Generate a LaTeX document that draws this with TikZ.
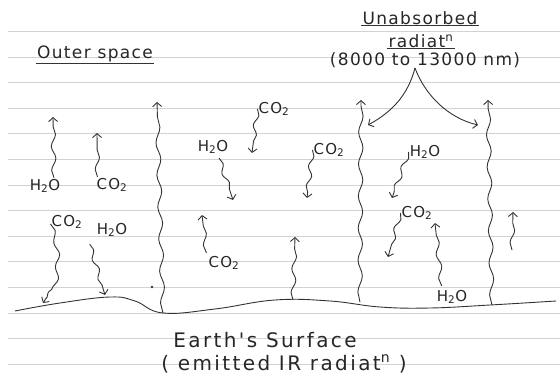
\documentclass[tikz,border=0pt]{standalone}
\usepackage{fontspec}
\setmainfont{DejaVu Sans}
\newfontfamily\handfont[LetterSpace=8]{DejaVu Sans}
\newfontfamily\widehand[LetterSpace=12]{DejaVu Sans}
\usetikzlibrary{arrows.meta,decorations.pathmorphing,positioning}

\tikzset{
  pen/.style={line width=0.9pt, black!80},
  tip/.style={-{Straight Barb[length=4pt,width=9pt]}},
  ray/.style={pen, tip, decorate,
    decoration={snake, segment length=#1, amplitude=2.2pt, post length=5pt}},
  ray/.default=24pt,
  hand/.style={font=\handfont\fontsize{17}{19}\selectfont, inner sep=1pt, black!85},
  ground/.style={font=\widehand\fontsize{20}{22}\selectfont, inner sep=1pt, black!85},
  gas/.style={font=\handfont\fontsize{15}{17}\selectfont, inner sep=1pt, black!85},
  rule/.style={gray!35, line width=0.9pt}
}

\begin{document}
\begin{tikzpicture}[x=1pt,y=-1pt]
  \useasboundingbox (0,0) rectangle (560,388);
  % ruled paper
  \foreach \k in {0,...,13}
    \draw[rule] (8,31.5+25.6*\k) -- (560,31.5+25.6*\k);

  % headings
  \node[hand] (space) at (95,54) {Outer space};
  \draw[pen] (space.south west) -- (space.south east);
  \node[hand] (unabs) at (420,18) {Unabsorbed};
  \node[hand] (rad) at (421,41) {radiat\textsuperscript{n}};
  \node[hand] (range) at (425,60) {(8000 to 13000 nm)};
  \draw[pen] (unabs.south west) -- (unabs.south east);
  \draw[pen] (rad.south west) -- (rad.south east);

  % the window that escapes
  \coordinate (split) at (415,68);
  \coordinate (hitL) at (368,125);
  \coordinate (hitR) at (478,125);
  \draw[pen,tip] (split) .. controls (408,95) and (392,112) .. (hitL);
  \draw[pen,tip] (split) .. controls (425,95) and (448,118) .. (hitR);

  % ground
  \draw[pen] plot[smooth, tension=0.7] coordinates {(15,311) (60,303) (110,297) (135,301)
    (163,313) (215,309) (275,300) (330,301) (380,307) (430,308) (490,305) (556,301)};
  \fill[black!80] (152,287) circle (1.3pt);
  \node[ground] (earth) at (265,340) {Earth's Surface};
  \node[ground] (emit) at (284,364) {( emitted IR radiat\textsuperscript{n} )};

  % long rays from the ground
  \coordinate (g1) at (163,313);
  \coordinate (g2) at (360,302);
  \coordinate (g3) at (492,305);
  \coordinate (top1) at (157,102);
  \coordinate (top2) at (361,100);
  \coordinate (top3) at (488,100);
  \draw[ray=32pt] (g1) -- (top1);
  \draw[ray=32pt] (g2) -- (top2);
  \draw[ray=32pt] (g3) -- (top3);

  % upward, left side
  \node[gas] (h2oA) at (45,186) {H\textsubscript{2}O};
  \node[gas] (co2A) at (112,185) {CO\textsubscript{2}};
  \coordinate (a1) at (53,117);
  \coordinate (a2) at (97,133);
  \draw[ray] (h2oA.north) ++(9,0) -- (a1);
  \draw[ray] (co2A.north west) ++(2,0) -- (a2);

  % absorbed and sent back down
  \node[gas] (co2B) at (274,109) {CO\textsubscript{2}};
  \node[gas] (h2oB) at (213,147) {H\textsubscript{2}O};
  \node[gas] (co2C) at (329,150) {CO\textsubscript{2}};
  \node[gas] (h2oC) at (425,152) {H\textsubscript{2}O};
  \node[gas] (co2D) at (417,213) {CO\textsubscript{2}};
  \coordinate (b1) at (252,153);
  \coordinate (b2) at (233,200);
  \coordinate (b3) at (307,198);
  \coordinate (b4) at (392,198);
  \coordinate (b5) at (388,257);
  \draw[ray=20pt] (co2B.west) -- (b1);
  \draw[ray=20pt] (h2oB.south) ++(6,3) -- (b2);
  \draw[ray=20pt] (co2C.west) -- (b3);
  \draw[ray=20pt] (h2oC.west) -- (b4);
  \draw[ray=20pt] (co2D.west) -- (b5);

  % near the ground
  \node[gas] (co2E) at (67,222) {CO\textsubscript{2}};
  \node[gas] (h2oD) at (112,230) {H\textsubscript{2}O};
  \node[gas] (co2F) at (224,263) {CO\textsubscript{2}};
  \node[gas] (h2oE) at (452,297) {H\textsubscript{2}O};
  \coordinate (c1) at (43,303);
  \coordinate (c2) at (105,295);
  \coordinate (c3) at (202,215);
  \coordinate (c4) at (295,237);
  \coordinate (c5) at (435,223);
  \coordinate (c6) at (513,212);
  \coordinate (c4g) at (293,300);
  \coordinate (c6b) at (512,250);
  \draw[ray=24pt] (co2E.west) ++(0,2) .. controls (60,250) and (56,285) .. (c1);
  \draw[ray=20pt] (h2oD.south west) ++(-6,6) -- (c2);
  \draw[ray] (co2F.north west) ++(-1,-2) -- (c3);
  \draw[ray] (c4g) -- (c4);
  \draw[ray] (h2oE.north west) ++(6,-3) -- (c5);
  \draw[ray] (c6b) -- (c6);
\end{tikzpicture}
\end{document}
